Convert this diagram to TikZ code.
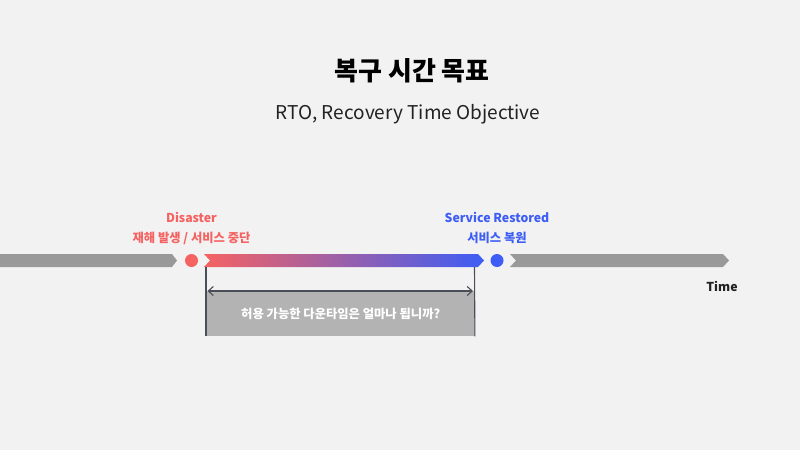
\documentclass[tikz,border=0pt]{standalone}
\usepackage{fontspec}
\setmainfont{Noto Sans CJK KR}
\usetikzlibrary{arrows.meta}
\definecolor{bg}{HTML}{F2F2F2}
\definecolor{bargrey}{HTML}{999999}
\definecolor{boxgrey}{HTML}{B3B3B3}
\definecolor{redc}{HTML}{F56262}
\definecolor{bluec}{HTML}{3D5DF5}
\definecolor{darkt}{HTML}{222222}
\definecolor{linec}{HTML}{4A4E57}
\tikzset{
  lbl/.style={font=\bfseries\fontsize{12.3}{15}\selectfont, inner sep=0pt, anchor=center},
  dot/.style={circle, minimum size=13pt, inner sep=0pt},
  vline/.style={draw=linec, line width=1.1pt},
}
\begin{document}
\begin{tikzpicture}[x=1pt,y=-1pt]
\useasboundingbox (0,0) rectangle (800,450);
\fill[bg] (0,0) rectangle (800,450);
% titles
\node[font=\bfseries\fontsize{26}{30}\selectfont, text=black] (title) at (412,71) {복구 시간 목표};
\node[font=\fontsize{19}{24}\selectfont, text=darkt] (sub) at (408,114.5) {RTO, Recovery Time Objective};
% bars
\fill[bargrey] (0,254) -- (172,254) -- (177,260.5) -- (172,267) -- (0,267) -- cycle;
\shade[left color=redc, right color=bluec] (204,254) -- (478,254) -- (484,260.5) -- (478,267) -- (204,267) -- (210,260.5) -- cycle;
\fill[bargrey] (510,254) -- (723,254) -- (729,260.5) -- (723,267) -- (510,267) -- (516,260.5) -- cycle;
% dots
\node[dot, fill=redc] (dis) at (191.5,260.5) {};
\node[dot, fill=bluec] (res) at (497,260.5) {};
% labels
\node[lbl, text=redc] (disen) at (191.5,217) {Disaster};
\node[lbl, text=redc] (disko) at (191.5,238) {재해 발생 / 서비스 중단};
\node[lbl, text=bluec] (resen) at (497,217) {Service Restored};
\node[lbl, text=bluec] (resko) at (497,238) {서비스 복원};
\node[lbl, text=darkt] (time) at (722,286) {Time};
% box
\node[fill=boxgrey, minimum width=269pt, minimum height=45pt, inner sep=0pt, anchor=north west,
      font=\bfseries\fontsize{12.3}{15}\selectfont, text=white] (box) at (206,291) {허용 가능한 다운타임은 얼마나 됩니까?};
% vertical lines
\coordinate (lt) at (206,267);
\coordinate (rt) at (474.5,267);
\draw[vline] (lt) -- (box.south west);
\draw[vline] (rt) -- ([xshift=-0.5pt]box.south east);
% double arrow
\coordinate (al) at (207.5,291);
\coordinate (ar) at (473,291);
\draw[linec, line width=1.1pt, {Straight Barb[length=5pt,width=9pt]}-{Straight Barb[length=5pt,width=9pt]}] (al) -- (ar);
\end{tikzpicture}
\end{document}
